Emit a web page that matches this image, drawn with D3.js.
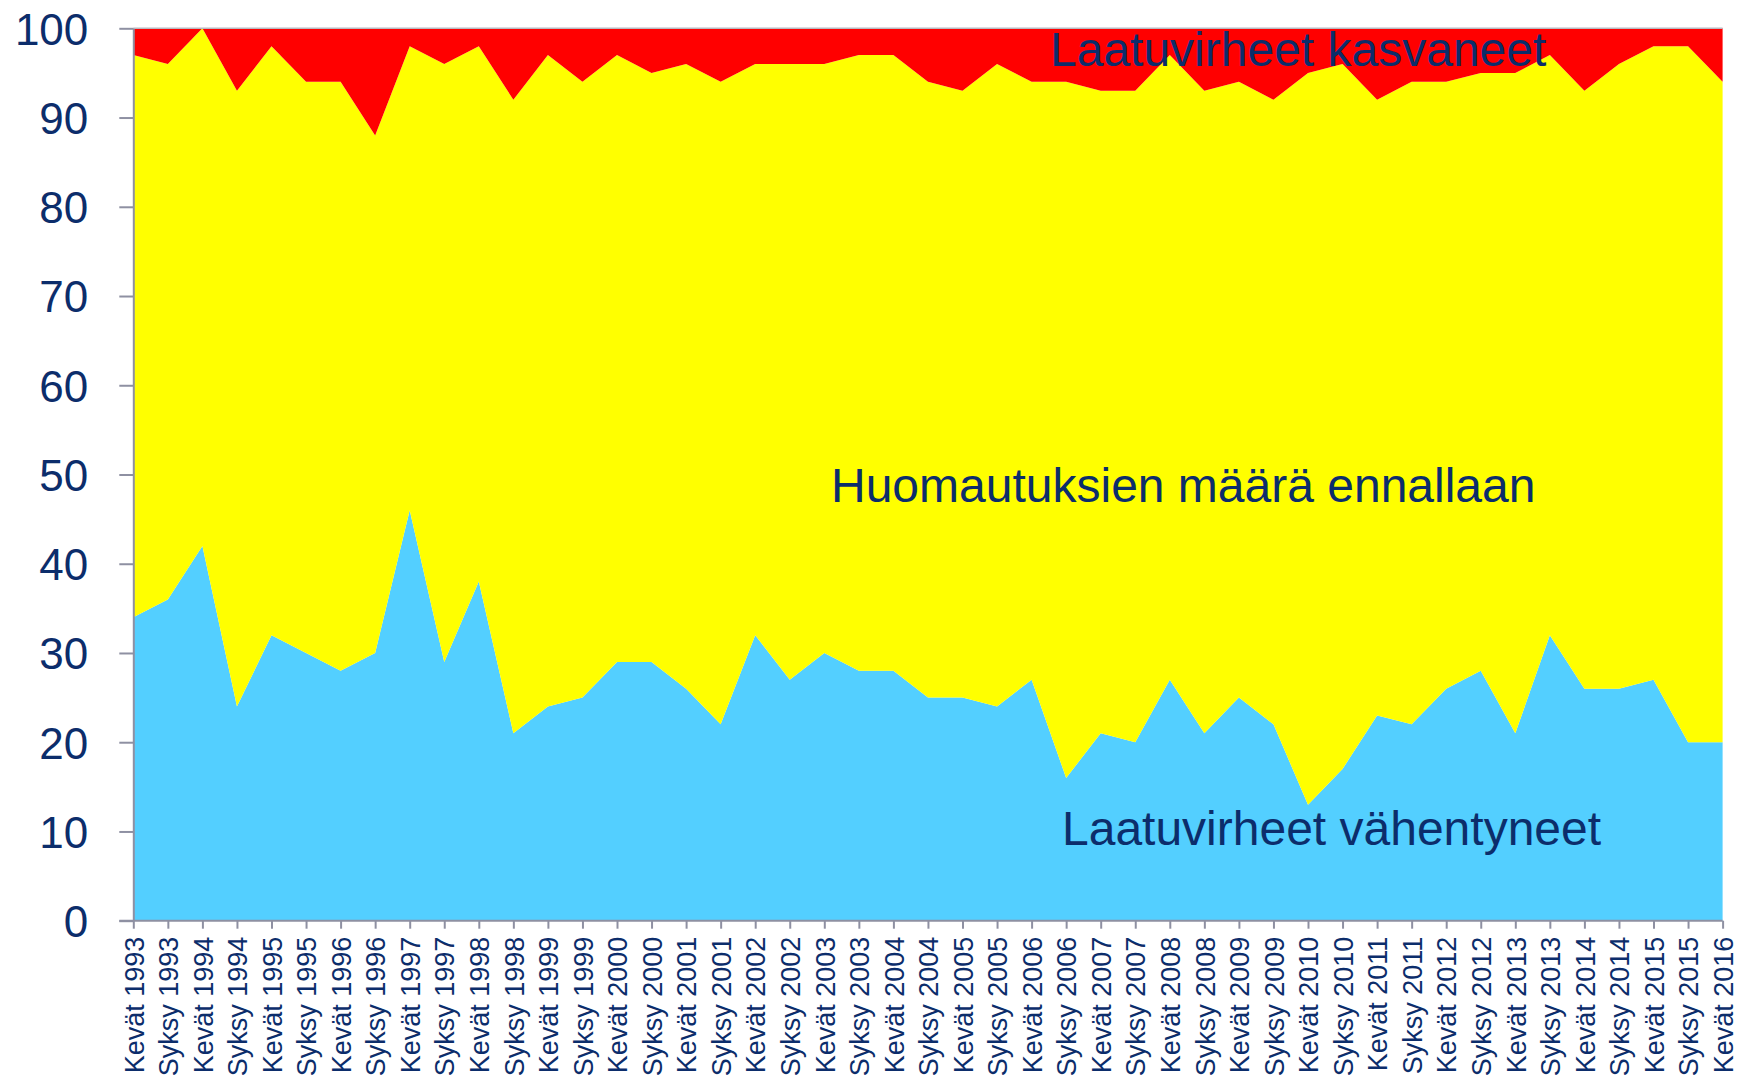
<!DOCTYPE html>
<html>
<head>
<meta charset="utf-8">
<script src="https://cdn.jsdelivr.net/npm/d3@7"></script>
<style>
  body { margin: 0; background: #fff; }
  svg { display: block; font-family: "Liberation Sans", Arial, sans-serif; }
</style>
</head>
<body>
<div id="chart"></div>
<script>
// categories (kevät = spring, syksy = autumn)
var kaudet = [];
for (var v = 1993; v <= 2016; v++) {
    kaudet.push("Kevät " + v);
    if (v < 2016) kaudet.push("Syksy " + v);
}

// series, percent of answers
var vahentyneet = [34,36,42,24,32,30,28,30,46,29,38,21,24,25,29,29,26,22,32,27,30,28,28,25,
                   25,24,27,16,21,20,27,21,25,22,13,17,23,22,26,28,21,32,26,26,27,20,20];
var ennallaan   = [63,60,58,69,66,64,66,58,52,67,60,71,73,69,68,66,70,72,64,69,66,69,69,69,
                   68,72,67,78,72,73,70,72,69,70,82,79,69,72,68,67,74,65,67,70,71,78,74];
var kasvaneet   = [3,4,0,7,2,6,6,12,2,4,2,8,3,6,3,5,4,6,4,4,4,3,3,6,
                   7,4,6,6,7,7,3,7,6,8,5,4,8,6,6,5,5,3,7,4,2,2,6];

var yTicks = [0,10,20,30,40,50,60,70,80,90,100];

var sarjat = [
    { key: "vahentyneet", label: "Laatuvirheet vähentyneet", color: "#53cfff" },
    { key: "ennallaan", label: "Huomautuksien määrä ennallaan", color: "#ffff00" },
    { key: "kasvaneet", label: "Laatuvirheet kasvaneet", color: "#ff0000" }
];

var navy = "#0c2d6b";
var axisGray = "#8e90a2";

function draw() {
    var w = 1742, h = 1076;
    var left = 133.3, right = 1722.6, top = 28.3, bottom = 920.7;

    var rows = kaudet.map(function(k, i) {
        return { kausi: k, vahentyneet: vahentyneet[i], ennallaan: ennallaan[i], kasvaneet: kasvaneet[i] };
    });

    var x = d3.scalePoint().domain(kaudet).range([left, right]);
    var y = d3.scaleLinear().domain([0, 100]).range([bottom, top]);

    var svg = d3.select("#chart").append("svg")
        .attr("width", w)
        .attr("height", h);

    var stack = d3.stack().keys(sarjat.map(function(s) { return s.key; }));
    var layers = stack(rows);

    var area = d3.area()
        .x(function(d) { return x(d.data.kausi); })
        .y0(function(d) { return y(d[0]); })
        .y1(function(d) { return y(d[1]); });

    svg.selectAll(".layer")
        .data(layers)
        .enter().append("path")
        .attr("class", "layer")
        .attr("d", area)
        .attr("fill", function(d, i) { return sarjat[i].color; });

    // top gridline at 100
    svg.append("line")
        .attr("x1", left).attr("x2", right)
        .attr("y1", y(100)).attr("y2", y(100))
        .attr("stroke", "#b8b8c0")
        .attr("stroke-width", 1.5);

    var yAxis = svg.append("g")
        .attr("transform", "translate(" + left + ",0)")
        .call(d3.axisLeft(y).tickValues(yTicks).tickSize(14).tickSizeOuter(0).tickPadding(31));
    yAxis.selectAll("line, path").attr("stroke", axisGray).attr("stroke-width", 2);
    yAxis.selectAll("text")
        .attr("fill", navy)
        .attr("font-size", 44)
        .attr("dy", "0.36em");

    var xAxis = svg.append("g")
        .attr("transform", "translate(0," + bottom + ")")
        .call(d3.axisBottom(x).tickSize(8).tickSizeOuter(0));
    xAxis.selectAll("line, path").attr("stroke", axisGray).attr("stroke-width", 2);
    xAxis.select(".domain").attr("d", "M" + (left - 14) + ",0H" + right);
    xAxis.selectAll("text")
        .attr("fill", navy)
        .attr("font-size", 27)
        .attr("transform", "rotate(-90)")
        .attr("text-anchor", "end")
        .attr("x", -16)
        .attr("y", 0)
        .attr("dy", "0.36em");

    // series labels inside the areas
    var nimet = [
        { text: sarjat[2].label, x: 1050, y: 66 },
        { text: sarjat[1].label, x: 831, y: 502 },
        { text: sarjat[0].label, x: 1062, y: 845 }
    ];
    svg.selectAll(".nimi")
        .data(nimet)
        .enter().append("text")
        .attr("class", "nimi")
        .attr("x", function(d) { return d.x; })
        .attr("y", function(d) { return d.y; })
        .attr("fill", navy)
        .attr("font-size", 48)
        .text(function(d) { return d.text; });
}

draw();
</script>
</body>
</html>
